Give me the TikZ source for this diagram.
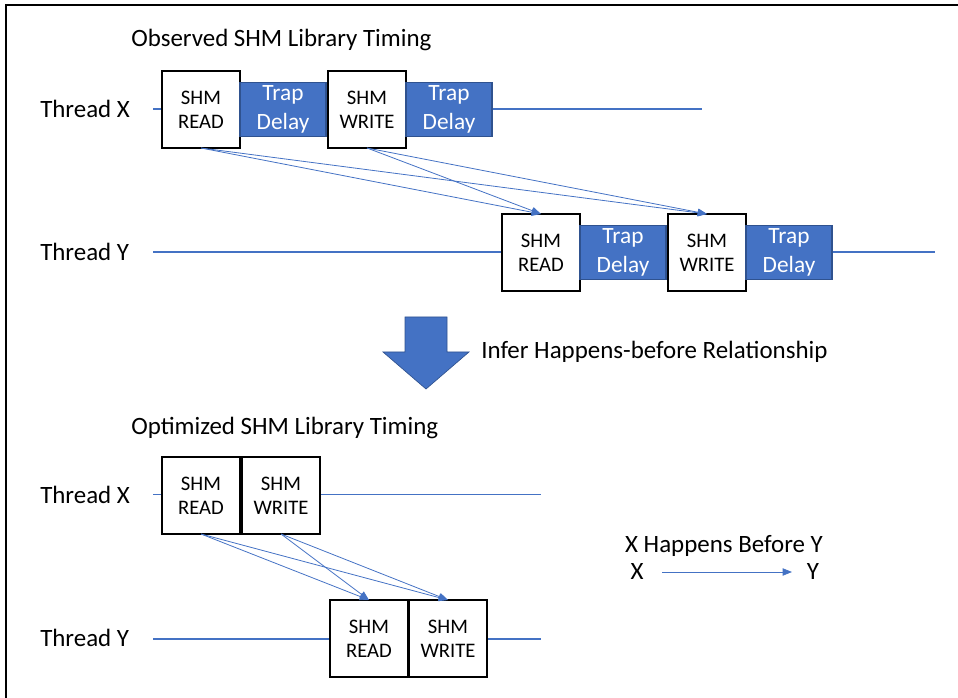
\documentclass[tikz,border=0pt]{standalone}
\usepackage{fontspec}
\setmainfont{Carlito}
\usetikzlibrary{arrows.meta,positioning}
\definecolor{offblue}{HTML}{4472C4}
\definecolor{offdark}{HTML}{2F528F}
\tikzset{
  shmbox/.style={draw=black, line width=1.2pt, fill=white, minimum width=58.5pt, minimum height=57.75pt,
    inner sep=0pt, outer sep=0pt, align=center, font=\fontsize{15.5}{18}\selectfont},
  trapbox/.style={draw=offdark, line width=0.8pt, fill=offblue, text=white, minimum width=64.5pt,
    minimum height=40.5pt, inner sep=0pt, outer sep=0pt, align=center, font=\fontsize{17.5}{22}\selectfont},
  lbl/.style={inner sep=0pt, font=\fontsize{18.7}{22}\selectfont},
  tline/.style={offblue, line width=0.9pt},
  hb/.style={offblue, line width=0.6pt, -{Triangle[length=7pt, width=5.5pt]}}
}
\begin{document}
\begin{tikzpicture}[x=0.75pt, y=-0.75pt]
  \useasboundingbox (0,0) rectangle (958,698);
  % frame
  \draw[line width=1.5pt] (6,698) -- (6,5.5) -- (958,5.5);

  % ---- observed timing ----
  \node[lbl, anchor=west] (obs) at (131,40) {Observed SHM Library Timing};
  \node[lbl, anchor=west] (thx) at (40,109) {Thread X};
  \node[lbl, anchor=west] (thy) at (40,252) {Thread Y};
  \coordinate (xs) at (153,109);
  \coordinate (xe) at (702,109);
  \coordinate (ys) at (153,252);
  \coordinate (ye) at (935,252);
  \draw[tline] (xs) -- (xe);
  \draw[tline] (ys) -- (ye);

  \node[shmbox] (rx1) at (201,109.5) {SHM\\READ};
  \node[trapbox, right=0pt of rx1] (tx1) {Trap\\Delay};
  \node[shmbox, right=1.5pt of tx1] (wx1) {SHM\\WRITE};
  \node[trapbox, right=0pt of wx1] (tx2) {Trap\\Delay};

  \node[shmbox] (ry1) at (541,252.5) {SHM\\READ};
  \node[trapbox, right=0pt of ry1] (ty1) {Trap\\Delay};
  \node[shmbox, right=1.5pt of ty1] (wy1) {SHM\\WRITE};
  \node[trapbox, right=0pt of wy1] (ty2) {Trap\\Delay};

  \foreach \s in {rx1,wx1}
    \foreach \t in {ry1,wy1}
      \draw[hb] (\s.south) -- (\t.north);

  % ---- inference step ----
  \fill[offblue, draw=offdark, line width=0.5pt] (405,317) -- (447,317) -- (447,352) -- (469,352)
    -- (426,389) -- (383,352) -- (405,352) -- cycle;
  \node[lbl, anchor=west] (infer) at (481,352) {Infer Happens-before Relationship};

  % ---- optimized timing ----
  \node[lbl, anchor=west] (opt) at (131,428) {Optimized SHM Library Timing};
  \node[lbl, anchor=west] (thx2) at (40,495) {Thread X};
  \node[lbl, anchor=west] (thy2) at (40,638) {Thread Y};
  \coordinate (xs2) at (153,494.5);
  \coordinate (xe2) at (541,494.5);
  \coordinate (ys2) at (153,639);
  \coordinate (ye2) at (541,639);
  \draw[tline] (xs2) -- (xe2);
  \draw[tline] (ys2) -- (ye2);

  \node[shmbox] (rx2) at (201,495.5) {SHM\\READ};
  \node[shmbox, right=1.5pt of rx2] (wx2) {SHM\\WRITE};
  \node[shmbox] (ry2) at (369,638.5) {SHM\\READ};
  \node[shmbox, right=0.75pt of ry2] (wy2) {SHM\\WRITE};

  \foreach \s in {rx2,wx2}
    \foreach \t in {ry2,wy2}
      \draw[hb] (\s.south) -- (\t.north);

  % ---- legend ----
  \node[lbl] (lgt) at (724,546) {X Happens Before Y};
  \node[lbl] (lgx) at (637,572) {X};
  \node[lbl] (lgy) at (813,572) {Y};
  \draw[hb, shorten <=14pt, shorten >=11pt] (lgx) -- (lgy);
\end{tikzpicture}
\end{document}
